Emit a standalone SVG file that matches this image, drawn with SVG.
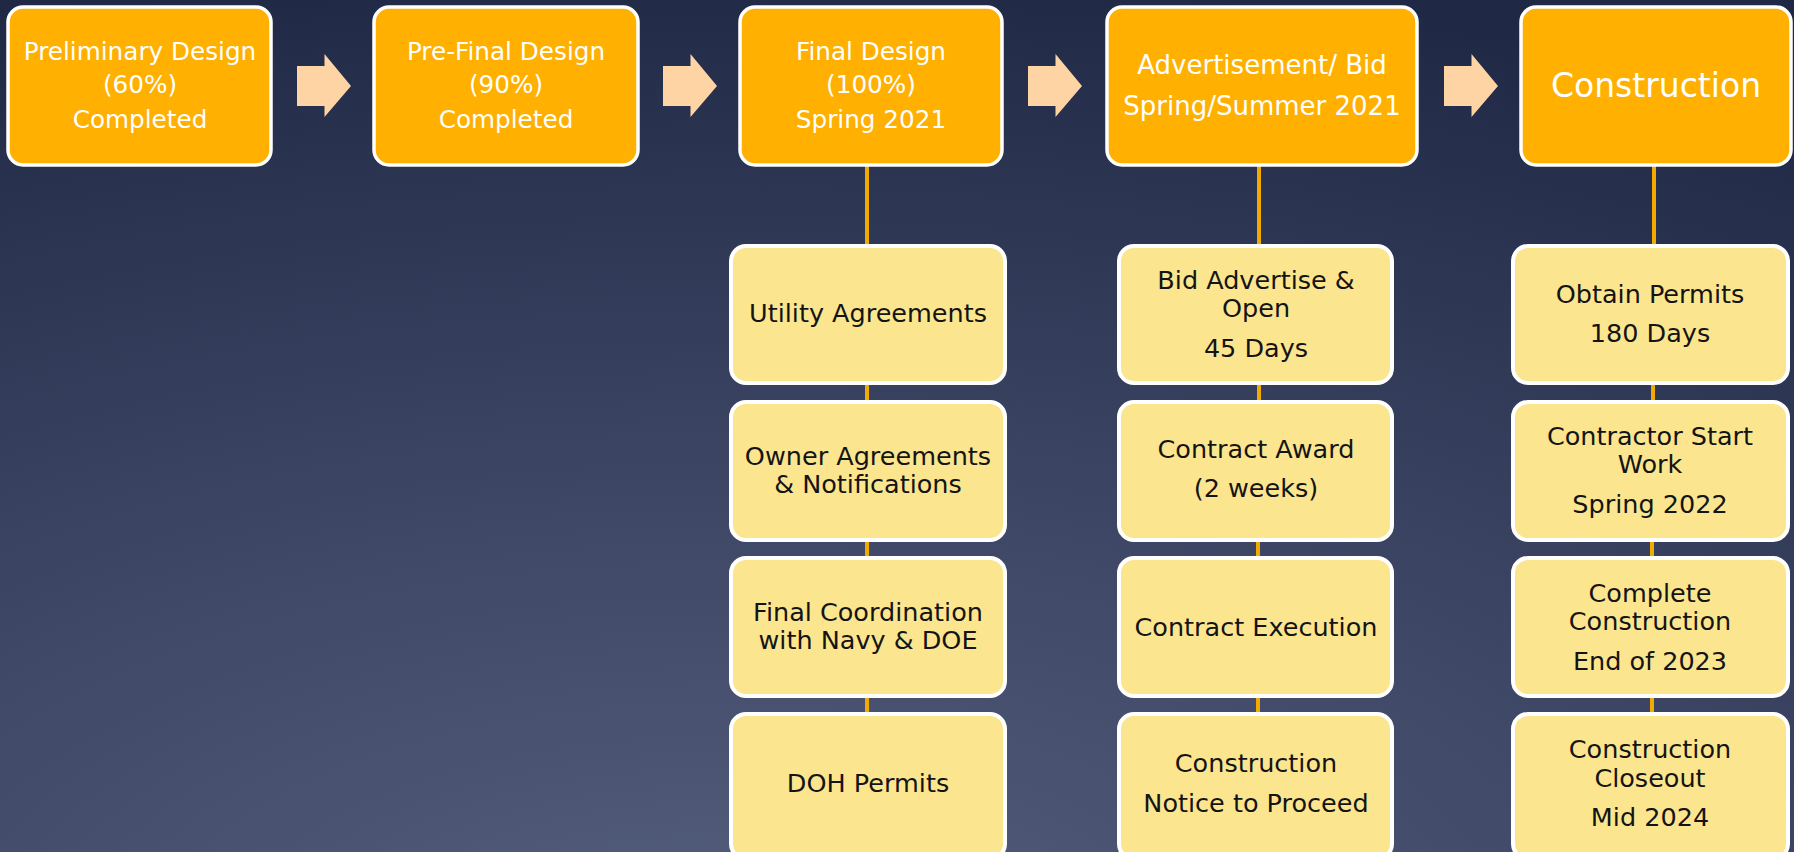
<svg xmlns="http://www.w3.org/2000/svg" width="1794" height="852" viewBox="0 0 1794 852">
<defs>
<radialGradient id="bg" cx="0.4" cy="1.15" r="1.2" gradientUnits="objectBoundingBox">
<stop offset="0" stop-color="#56617F"/>
<stop offset="0.45" stop-color="#3F4866"/>
<stop offset="1" stop-color="#1F2844"/>
</radialGradient>
<polygon id="arr" points="0,12 27.5,12 27.5,0 54,32 27.5,63 27.5,52 0,52"/>
</defs>
<style>
.top{fill:#FFB000;stroke:#FFFFFF;stroke-width:3.5}
.sub{fill:#FCE58F;stroke:#FFFFFF;stroke-width:4}
.arrow{fill:#FFD4A4}
.conn{stroke:#F2A900;stroke-width:4;fill:none}
.tw{font-family:"DejaVu Sans",sans-serif;font-size:24.7px;fill:#FFFFFF;text-anchor:middle}
.tb{font-family:"DejaVu Sans",sans-serif;font-size:25.5px;fill:#141414;text-anchor:middle}
</style>
<rect x="0" y="0" width="1794" height="852" fill="url(#bg)"/>

<g id="connectors">
<line class="conn" x1="867" y1="165" x2="867" y2="246"/>
<line class="conn" x1="867" y1="383" x2="867" y2="402"/>
<line class="conn" x1="867" y1="540" x2="867" y2="558"/>
<line class="conn" x1="867" y1="696" x2="867" y2="714"/>
<line class="conn" x1="1259" y1="165" x2="1259" y2="246"/>
<line class="conn" x1="1259" y1="383" x2="1259" y2="402"/>
<line class="conn" x1="1258" y1="540" x2="1258" y2="558"/>
<line class="conn" x1="1258" y1="696" x2="1258" y2="714"/>
<line class="conn" x1="1654" y1="165" x2="1654" y2="246"/>
<line class="conn" x1="1653" y1="383" x2="1653" y2="402"/>
<line class="conn" x1="1652" y1="540" x2="1652" y2="558"/>
<line class="conn" x1="1652" y1="696" x2="1652" y2="714"/>
<use href="#arr" class="arrow" x="297" y="54"/>
<use href="#arr" class="arrow" x="663" y="54"/>
<use href="#arr" class="arrow" x="1028" y="54"/>
<use href="#arr" class="arrow" x="1444" y="54"/>
</g>

<g id="n-preliminary">
<rect class="top" x="8" y="7" width="263" height="158" rx="15"/>
<text class="tw" x="140" y="60">Preliminary Design</text>
<text class="tw" x="140" y="93">(60%)</text>
<text class="tw" x="140" y="128">Completed</text>
</g>
<g id="n-prefinal">
<rect class="top" x="374" y="7" width="264" height="158" rx="15"/>
<text class="tw" x="506" y="60">Pre-Final Design</text>
<text class="tw" x="506" y="93">(90%)</text>
<text class="tw" x="506" y="128">Completed</text>
</g>
<g id="n-final">
<rect class="top" x="740" y="7" width="262" height="158" rx="15"/>
<text class="tw" x="871" y="60">Final Design</text>
<text class="tw" x="871" y="93">(100%)</text>
<text class="tw" x="871" y="128">Spring 2021</text>
</g>
<g id="n-advert">
<rect class="top" x="1107" y="7" width="310" height="158" rx="15"/>
<text class="tw" x="1262" y="74" style="font-size:26px">Advertisement/ Bid</text>
<text class="tw" x="1262" y="115" style="font-size:26px">Spring/Summer 2021</text>
</g>
<g id="n-construction">
<rect class="top" x="1521" y="7" width="270" height="158" rx="15"/>
<text class="tw" x="1656" y="97" style="font-size:33px">Construction</text>
</g>

<g id="n-utility">
<rect class="sub" x="731" y="246" width="274" height="137" rx="15"/>
<text class="tb" x="868" y="322">Utility Agreements</text>
</g>
<g id="n-owner">
<rect class="sub" x="731" y="402" width="274" height="138" rx="15"/>
<text class="tb" x="868" y="465">Owner Agreements</text>
<text class="tb" x="868" y="493">&amp; Notifications</text>
</g>
<g id="n-coord">
<rect class="sub" x="731" y="558" width="274" height="138" rx="15"/>
<text class="tb" x="868" y="621">Final Coordination</text>
<text class="tb" x="868" y="649">with Navy &amp; DOE</text>
</g>
<g id="n-doh">
<rect class="sub" x="731" y="714" width="274" height="145" rx="15"/>
<text class="tb" x="868" y="792">DOH Permits</text>
</g>

<g id="n-bid">
<rect class="sub" x="1119" y="246" width="273" height="137" rx="15"/>
<text class="tb" x="1256" y="289">Bid Advertise &amp;</text>
<text class="tb" x="1256" y="317">Open</text>
<text class="tb" x="1256" y="357">45 Days</text>
</g>
<g id="n-award">
<rect class="sub" x="1119" y="402" width="273" height="138" rx="15"/>
<text class="tb" x="1256" y="458">Contract Award</text>
<text class="tb" x="1256" y="497">(2 weeks)</text>
</g>
<g id="n-execution">
<rect class="sub" x="1119" y="558" width="273" height="138" rx="15"/>
<text class="tb" x="1256" y="636">Contract Execution</text>
</g>
<g id="n-ntp">
<rect class="sub" x="1119" y="714" width="273" height="145" rx="15"/>
<text class="tb" x="1256" y="772">Construction</text>
<text class="tb" x="1256" y="812">Notice to Proceed</text>
</g>

<g id="n-permits">
<rect class="sub" x="1513" y="246" width="275" height="137" rx="15"/>
<text class="tb" x="1650" y="303">Obtain Permits</text>
<text class="tb" x="1650" y="342">180 Days</text>
</g>
<g id="n-start">
<rect class="sub" x="1513" y="402" width="275" height="138" rx="15"/>
<text class="tb" x="1650" y="445">Contractor Start</text>
<text class="tb" x="1650" y="473">Work</text>
<text class="tb" x="1650" y="513">Spring 2022</text>
</g>
<g id="n-complete">
<rect class="sub" x="1513" y="558" width="275" height="138" rx="15"/>
<text class="tb" x="1650" y="602">Complete</text>
<text class="tb" x="1650" y="630">Construction</text>
<text class="tb" x="1650" y="670">End of 2023</text>
</g>
<g id="n-closeout">
<rect class="sub" x="1513" y="714" width="275" height="145" rx="15"/>
<text class="tb" x="1650" y="758">Construction</text>
<text class="tb" x="1650" y="787">Closeout</text>
<text class="tb" x="1650" y="826">Mid 2024</text>
</g>
</svg>
